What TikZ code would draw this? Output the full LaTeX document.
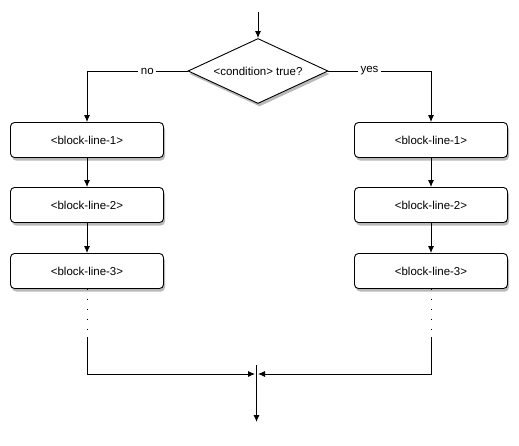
\documentclass[tikz,border=0pt]{standalone}
\usepackage{fontspec}
\setmainfont{Liberation Sans}
\usetikzlibrary{positioning}
\usetikzlibrary{shapes.geometric,shadows,arrows.meta}

\tikzset{
  block/.style={draw,fill=white,rounded corners=4pt,line width=0.9pt,
    minimum width=153pt,minimum height=35pt,font=\fontsize{11.5}{13}\selectfont,
    drop shadow={shadow xshift=1.5pt,shadow yshift=-3pt,opacity=0.55}},
  decision/.style={diamond,draw,fill=white,line width=0.9pt,aspect=2.15,inner sep=0pt,
    minimum width=140pt,minimum height=65pt,font=\fontsize{11.5}{13}\selectfont,
    drop shadow={shadow xshift=1.5pt,shadow yshift=-3pt,opacity=0.55}},
  flow/.style={line width=0.9pt,-{Latex[length=7pt,width=6pt]}},
  lbl/.style={fill=white,inner sep=2.5pt,font=\fontsize{11.5}{13}\selectfont}
}

\begin{document}
\begin{tikzpicture}[x=1pt,y=-1pt]
  \useasboundingbox (0,0) rectangle (519,445);

  \coordinate (start) at (258,12);
  \node at (258,71) [decision] (cond) {<condition> true?};

  \node at (87,140) [block] (noone) {<block-line-1>};
  \node at (87,205) [block] (notwo) {<block-line-2>};
  \node at (87,271) [block] (nothree) {<block-line-3>};

  \node at (431,140) [block] (yesone) {<block-line-1>};
  \node at (431,205) [block] (yestwo) {<block-line-2>};
  \node at (431,271) [block] (yesthree) {<block-line-3>};

  \coordinate (nodots) at (87,337);
  \coordinate (yesdots) at (431,337);
  \coordinate (join) at (256.5,374);
  \coordinate (jointop) at (256.5,365);
  \coordinate (stop) at (256.5,422);

  \draw[flow] (start) -- (cond.north);
  \draw[flow] (cond.west) -| node[lbl,pos=0.2] {no} (noone.north);
  \draw[flow] (cond.east) -| node[lbl,pos=0.2] {yes} (yesone.north);

  \draw[flow] (noone) -- (notwo);
  \draw[flow] (notwo) -- (nothree);
  \draw[flow] (yesone) -- (yestwo);
  \draw[flow] (yestwo) -- (yesthree);

  \draw[line width=0.9pt,dash pattern=on 1.5pt off 8.5pt] (nothree.south) -- (nodots);
  \draw[line width=0.9pt,dash pattern=on 1.5pt off 8.5pt] (yesthree.south) -- (yesdots);
  \draw[flow,shorten >=1.5pt] (nodots) |- (join);
  \draw[flow,shorten >=1.5pt] (yesdots) |- (join);
  \draw[flow] (jointop) -- (stop);
\end{tikzpicture}
\end{document}
